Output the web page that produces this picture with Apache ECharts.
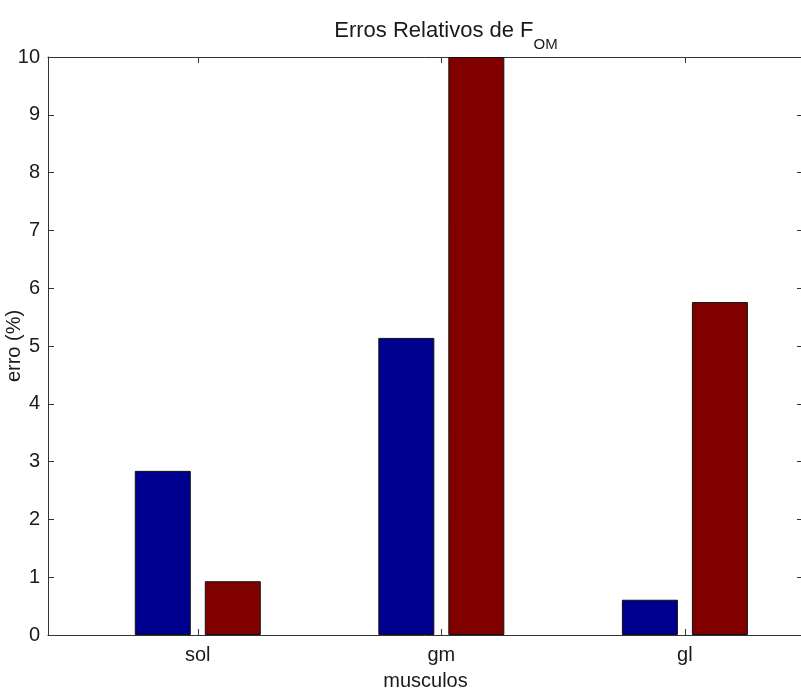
<!DOCTYPE html>
<html>
<head>
<meta charset="utf-8">
<script src="https://cdn.jsdelivr.net/npm/echarts@6/dist/echarts.min.js"></script>
<style>
  html, body { margin: 0; padding: 0; background: #fff; }
  #chart { width: 801px; height: 693px; }
</style>
</head>
<body>
<div id="chart"></div>
<script>
// categories on the x axis (positions 1, 2, 3)
var categories = ['sol', 'gm', 'gl'];
var positions = [1, 2, 3];
// relative errors (%) for the two bar series
var serieA = [2.84, 5.14, 0.61];
var serieB = [0.93, 10.0, 5.76];

var font = 'Liberation Sans, Arial, sans-serif';
var axisColor = '#333';
var txtColor = '#1a1a1a';
var fs = 20;

function pairs(vals) {
    return positions.map(function (p, i) { return [p, vals[i]]; });
}

var myChart = echarts.init(document.getElementById('chart'));

var xBase = {
    type: 'value',
    min: 0.385,
    max: 3.485,
    splitLine: {show: false},
    axisLine: {show: true, onZero: false, lineStyle: {color: axisColor, width: 1}}
};

option = {
    backgroundColor: '#fff',
    animation: false,
    title: {
        text: '{a|Erros Relativos de F}{b|OM}',
        left: 441,
        textAlign: 'center',
        top: 15,
        textStyle: {
            fontWeight: 'normal',
            rich: {
                a: {fontFamily: font, fontSize: 22, color: txtColor, lineHeight: 32, verticalAlign: 'top'},
                b: {fontFamily: font, fontSize: 15, color: txtColor, lineHeight: 32, verticalAlign: 'bottom'}
            }
        }
    },
    grid: {left: 48, right: -2, top: 57, bottom: 58, containLabel: false, outerBoundsMode: 'none'},
    xAxis: [
        Object.assign({}, xBase, {
            position: 'bottom',
            name: 'musculos',
            nameLocation: 'middle',
            nameGap: 36,
            nameMoveOverlap: false,
            nameTextStyle: {fontFamily: font, fontSize: fs, color: txtColor},
            axisTick: {show: true, inside: true, length: 6, customValues: positions,
                lineStyle: {color: axisColor}},
            axisLabel: {
                customValues: positions,
                fontFamily: font, fontSize: fs, color: txtColor, margin: 10,
                formatter: function (v) { return categories[positions.indexOf(Math.round(v))] || ''; }
            }
        }),
        Object.assign({}, xBase, {
            position: 'top',
            axisTick: {show: true, inside: true, length: 6, customValues: positions,
                lineStyle: {color: axisColor}},
            axisLabel: {show: false}
        })
    ],
    yAxis: [
        {
            type: 'value',
            min: 0,
            max: 10,
            interval: 1,
            position: 'left',
            name: 'erro (%)',
            nameLocation: 'middle',
            nameGap: 24,
            nameMoveOverlap: false,
            nameTextStyle: {fontFamily: font, fontSize: fs, color: txtColor},
            splitLine: {show: false},
            axisLine: {show: true, onZero: false, lineStyle: {color: axisColor, width: 1}},
            axisTick: {show: true, inside: true, length: 6, lineStyle: {color: axisColor}},
            axisLabel: {fontFamily: font, fontSize: fs, color: txtColor, margin: 8}
        },
        {
            type: 'value',
            min: 0,
            max: 10,
            interval: 1,
            position: 'right',
            splitLine: {show: false},
            axisLine: {show: true, onZero: false, lineStyle: {color: axisColor, width: 1}},
            axisTick: {show: true, inside: true, length: 6, lineStyle: {color: axisColor}},
            axisLabel: {show: false}
        }
    ],
    series: [
        {
            type: 'bar',
            data: pairs(serieA),
            barWidth: 56,
            barGap: '25%',
            itemStyle: {color: '#00008f', borderColor: '#111', borderWidth: 1}
        },
        {
            type: 'bar',
            data: pairs(serieB),
            barWidth: 56,
            barGap: '25%',
            itemStyle: {color: '#800000', borderColor: '#111', borderWidth: 1}
        }
    ]
};

myChart.setOption(option);
</script>
</body>
</html>
